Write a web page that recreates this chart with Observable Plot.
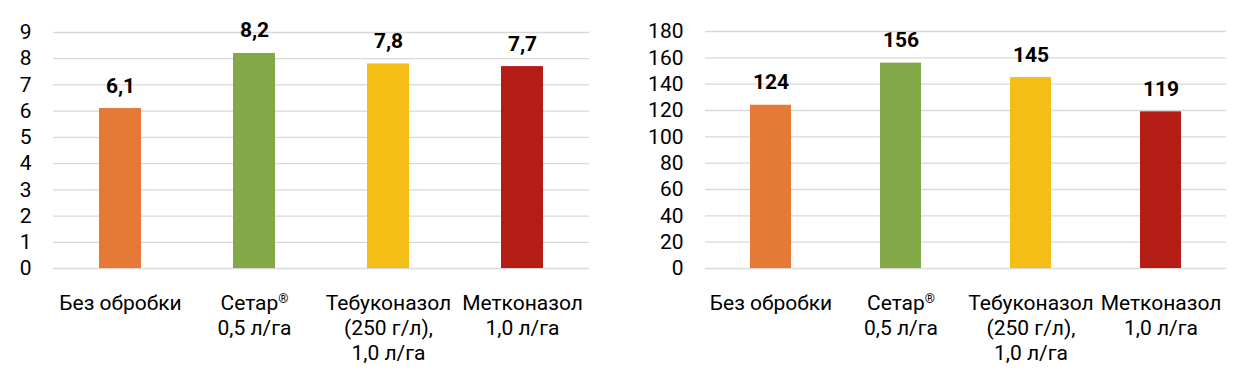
<!DOCTYPE html>
<html>
<head>
<meta charset="utf-8">
<script src="https://cdn.jsdelivr.net/npm/d3@7"></script>
<script src="https://cdn.jsdelivr.net/npm/@observablehq/plot@0.6"></script>
<style>
  html, body { margin: 0; padding: 0; background: #fff; }
  #wrap { display: flex; width: 1238px; height: 378px; }
  svg { display: block; }
</style>
</head>
<body>
<div id="wrap"></div>
<script>
const categories = ["Без обробки", "Сетар®\n0,5 л/га", "Тебуконазол\n(250 г/л),\n1,0 л/га", "Метконазол\n1,0 л/га"];
const colors = ["#E47A36", "#82A847", "#F4BE17", "#B41C16"];
const valuesLeft = [6.1, 8.2, 7.8, 7.7];
const valuesRight = [124, 156, 145, 119];
const labelsLeft = ["6,1", "8,2", "7,8", "7,7"];
const labelsRight = ["124", "156", "145", "119"];
const ticksLeft = [0, 1, 2, 3, 4, 5, 6, 7, 8, 9];
const ticksRight = [0, 20, 40, 60, 80, 100, 120, 140, 160, 180];

const FONT = "Roboto, sans-serif";

function makeChart(values, labels, ticks, opts) {
  const data = categories.map((c, i) => ({cat: c, v: values[i], label: labels[i], color: colors[i]}));
  const chart = Plot.plot({
    width: opts.width,
    height: 378,
    marginTop: opts.marginTop,
    marginBottom: 110,
    marginLeft: opts.marginLeft,
    marginRight: opts.marginRight,
    style: {fontFamily: FONT, fontSize: "21px", color: "#000", background: "#fff"},
    x: {domain: categories, paddingInner: opts.pad, paddingOuter: opts.pad / 2, label: null},
    y: {domain: [ticks[0], ticks[ticks.length - 1]], label: null},
    marks: [
      Plot.ruleY(ticks, {stroke: "#d9d9d9", strokeWidth: 1.3}),
      Plot.barY(data, {x: "cat", y: "v", fill: "color"}),
      Plot.text(data, {x: "cat", y: "v", text: "label", lineAnchor: "bottom", dy: -16, fontWeight: "bold", fontSize: 21, fill: "#000"}),
      Plot.axisY({ticks: ticks, tickSize: 0, tickPadding: opts.tickPad, fontSize: 21, label: null, tickFormat: d => String(d)}),
      Plot.axisX({tickSize: 0, tickPadding: 24, fontSize: 21, lineHeight: 1.19, label: null})
    ]
  });
  // superscript ®
  chart.querySelectorAll("text tspan, text").forEach(t => {
    if (t.childElementCount === 0 && t.textContent.includes("®")) {
      const txt = t.textContent;
      const idx = txt.indexOf("®");
      t.textContent = txt.slice(0, idx);
      const s = document.createElementNS("http://www.w3.org/2000/svg", "tspan");
      s.setAttribute("font-size", "13");
      s.setAttribute("baseline-shift", "super");
      s.textContent = "®";
      t.appendChild(s);
      if (idx + 1 < txt.length) t.appendChild(document.createTextNode(txt.slice(idx + 1)));
    }
  });
  return chart;
}

const wrap = document.getElementById("wrap");
wrap.appendChild(makeChart(valuesLeft, labelsLeft, ticksLeft, {width: 619, marginTop: 32, marginLeft: 53, marginRight: 30, pad: 0.69, tickPad: 22}));
wrap.appendChild(makeChart(valuesRight, labelsRight, ticksRight, {width: 619, marginTop: 31, marginLeft: 86, marginRight: 12, pad: 0.685, tickPad: 22}));
</script>
</body>
</html>
